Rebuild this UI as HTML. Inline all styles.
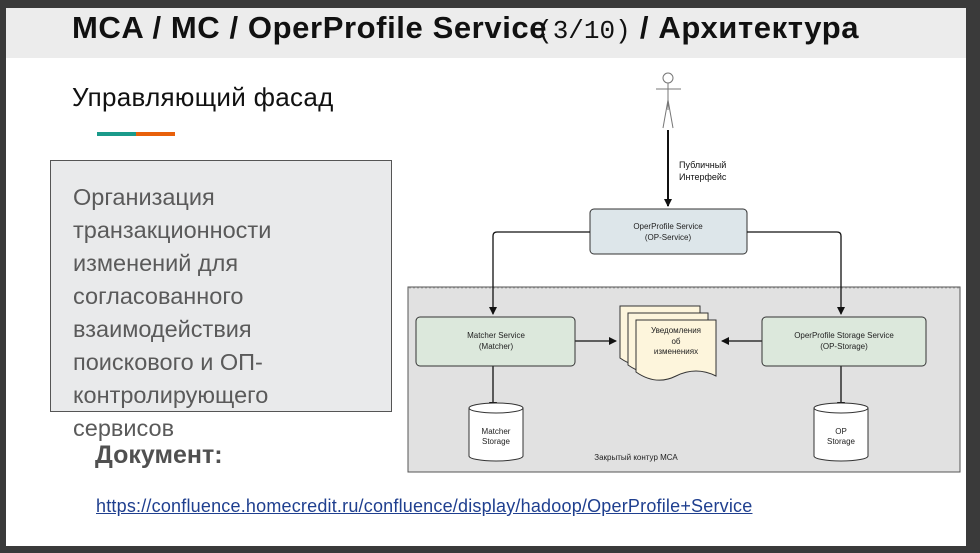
<!DOCTYPE html>
<html><head><meta charset="utf-8"><style>
body{margin:0;width:980px;height:553px;background:#3a3a3a;position:relative;overflow:hidden;font-family:"Liberation Sans","DejaVu Sans",sans-serif}
.slide{position:absolute;left:6px;top:8px;width:960px;height:538px;background:#fff}
.hdr{position:absolute;left:6px;top:8px;width:960px;height:50px;background:#ececec}
.t{position:absolute;white-space:nowrap}
</style></head><body>
<div class="slide"></div><div class="hdr"></div>
<div class="t" style="left:72px;top:10px;font-size:31px;font-weight:bold;color:#111;letter-spacing:0.6px">MCA / MC / OperProfile Servic<span>e</span><span style="font-family:'Liberation Mono',monospace;font-weight:normal;font-size:26px;margin-left:-10px;letter-spacing:0">(3/10)</span> / Архитектура</div>
<div class="t" style="left:72px;top:82px;font-size:26px;color:#111;letter-spacing:0.3px">Управляющий фасад</div>
<div style="position:absolute;left:97px;top:132px;width:39px;height:4px;background:#1a9a8a"></div>
<div style="position:absolute;left:136px;top:132px;width:39px;height:4px;background:#e8600a"></div>
<div style="position:absolute;left:50px;top:160px;width:340px;height:250px;background:#e9eaeb;border:1px solid #555"></div>
<div class="t" style="left:73px;top:181px;font-size:23.5px;line-height:33px;color:#5a5a5a">Организация<br>транзакционности<br>изменений для<br>согласованного<br>взаимодействия<br>поискового и ОП-<br>контролирующего<br>сервисов</div>
<div class="t" style="left:95px;top:441px;font-size:25px;font-weight:bold;color:#505050">Документ:</div>
<div class="t" style="left:96px;top:496px;font-size:18px;letter-spacing:0.2px;color:#1f3f8f;text-decoration:underline">https://confluence.homecredit.ru/confluence/display/hadoop/OperProfile+Service</div>
<svg style="position:absolute;left:0;top:0" width="980" height="553" font-family="Liberation Sans,sans-serif">
<defs><marker id="a" markerWidth="8" markerHeight="8" refX="7" refY="4" orient="auto" markerUnits="userSpaceOnUse"><path d="M0,0L8,4L0,8z" fill="#111"/></marker></defs>
<g stroke="#777" fill="none" stroke-width="1"><circle cx="668" cy="78" r="5"/><path d="M656,89H681M668,83V110M668,100L663,128M668,100L673,128"/></g>
<path d="M668,130V206" stroke="#111" stroke-width="2" marker-end="url(#a)"/>
<text x="679" y="168" font-size="9" fill="#111">Публичный</text><text x="679" y="180" font-size="9" fill="#111">Интерфейс</text>
<rect x="408" y="287" width="552" height="185" fill="#e1e1e1" stroke="#555"/>
<path d="M409,288H959" stroke="#aaa" stroke-dasharray="2,2"/>
<rect x="590" y="209" width="157" height="45" rx="4" fill="#dde6ea" stroke="#333"/>
<text x="668" y="229" font-size="8" text-anchor="middle" fill="#222">OperProfile Service</text><text x="668" y="240" font-size="8" text-anchor="middle" fill="#222">(OP-Service)</text>
<g stroke="#111" stroke-width="1.3" fill="none">
<path d="M590,232H497Q493,232 493,236V314" marker-end="url(#a)"/>
<path d="M747,232H837Q841,232 841,236V314" marker-end="url(#a)"/>
<path d="M575,341H616" marker-end="url(#a)"/>
<path d="M762,341H722" marker-end="url(#a)"/>
<path d="M493,366V409" marker-end="url(#a)"/>
<path d="M841,366V409" marker-end="url(#a)"/>
</g>
<rect x="416" y="317" width="159" height="49" rx="4" fill="#dce8dc" stroke="#333"/>
<text x="496" y="338" font-size="8" text-anchor="middle" fill="#222">Matcher Service</text><text x="496" y="349" font-size="8" text-anchor="middle" fill="#222">(Matcher)</text>
<rect x="762" y="317" width="164" height="49" rx="4" fill="#dce8dc" stroke="#333"/>
<text x="844" y="338" font-size="8" text-anchor="middle" fill="#222">OperProfile Storage Service</text><text x="844" y="349" font-size="8" text-anchor="middle" fill="#222">(OP-Storage)</text>
<g fill="#fdf5dc" stroke="#333">
<path d="M620,306H700V362Q680,352 660,362T620,358Z"/>
<path d="M628,313H708V369Q688,359 668,369T628,365Z"/>
<path d="M636,320H716V376Q696,366 676,376T636,372Z"/>
</g>
<text x="676" y="333" font-size="8" text-anchor="middle" fill="#222">Уведомления</text><text x="676" y="344" font-size="8" text-anchor="middle" fill="#222">об</text><text x="676" y="354" font-size="8" text-anchor="middle" fill="#222">изменениях</text>
<g fill="#fff" stroke="#333">
<path d="M469,408V456A27,5 0 0 0 523,456V408"/><ellipse cx="496" cy="408" rx="27" ry="5"/>
<path d="M814,408V456A27,5 0 0 0 868,456V408"/><ellipse cx="841" cy="408" rx="27" ry="5"/>
</g>
<text x="496" y="434" font-size="8" text-anchor="middle" fill="#222">Matcher</text><text x="496" y="444" font-size="8" text-anchor="middle" fill="#222">Storage</text>
<text x="841" y="434" font-size="8" text-anchor="middle" fill="#222">OP</text><text x="841" y="444" font-size="8" text-anchor="middle" fill="#222">Storage</text>
<text x="636" y="460" font-size="8" text-anchor="middle" fill="#222">Закрытый контур МСА</text>
</svg>
</body></html>
